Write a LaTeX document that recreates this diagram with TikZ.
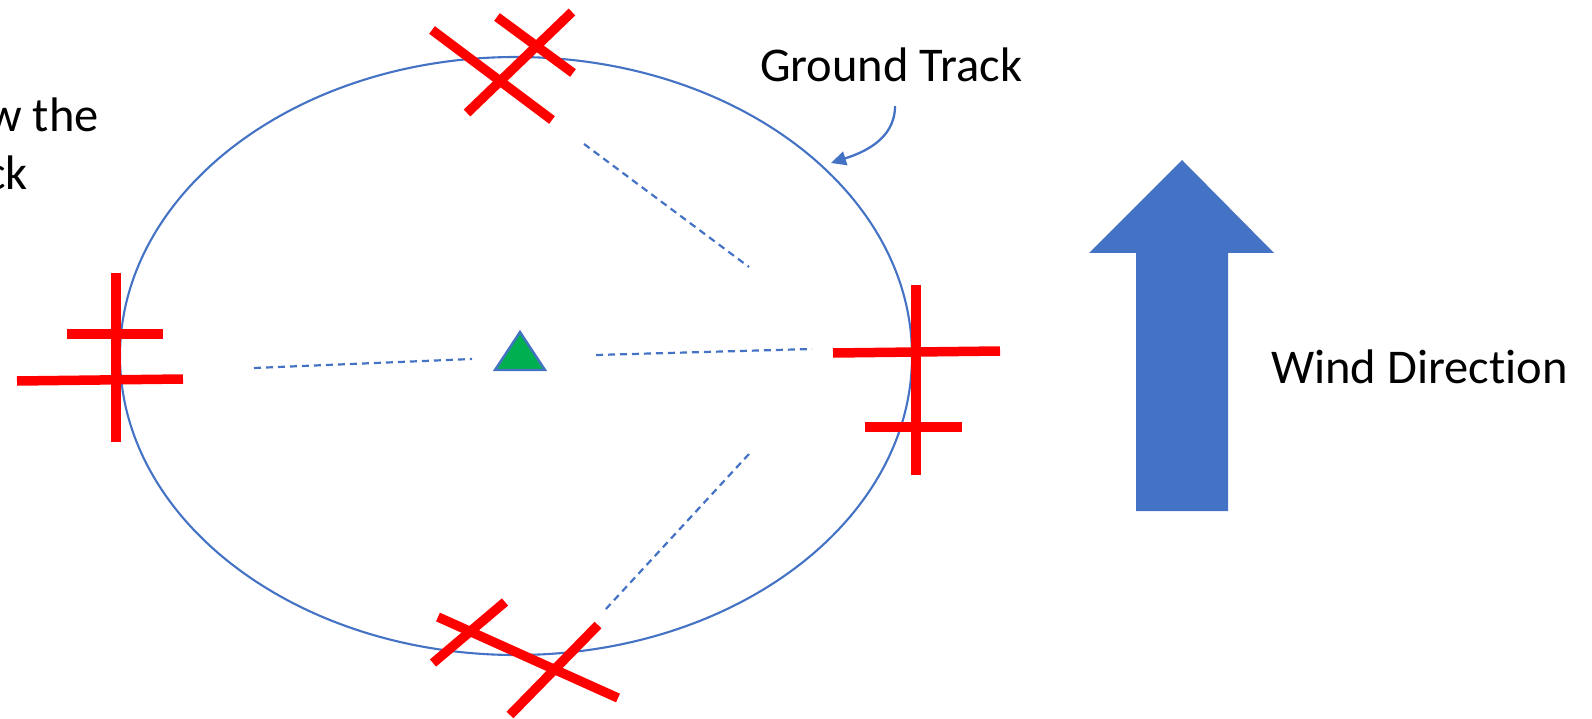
\documentclass[tikz,border=0pt]{standalone}
\usepackage{fontspec}
\setmainfont[Ligatures=NoCommon]{Carlito}
\usetikzlibrary{arrows.meta,shapes.geometric}
\definecolor{tblue}{HTML}{4472C4}
\definecolor{tred}{HTML}{FF0000}
\definecolor{tgreen}{HTML}{00B050}
\begin{document}
\begin{tikzpicture}[x=1pt,y=-1pt,
  lbl/.style={inner sep=0pt,font=\fontsize{48.5}{58}\selectfont},
  track/.style={draw=tblue,line width=2.1pt,ellipse,inner sep=0pt},
  bar/.style={draw=tred,line width=9.5pt},
  guide/.style={draw=tblue,line width=2.2pt,dash pattern=on 7pt off 5pt},
  callout/.style={draw=tblue,line width=2.3pt,-{Triangle[length=15pt,width=14pt]}},
  windarrow/.style={fill=tblue,draw=none}]
\useasboundingbox (0,0) rectangle (1592,719);
% ground track ellipse
\node[track,minimum width=792pt,minimum height=598pt] (trk) at (516,356) {};
% labels
\node[lbl,anchor=base west] (gt) at (760,82) {Ground Track};
\node[lbl,anchor=base west] (wd) at (1271,383) {Wind Direction};
\node[lbl,anchor=base east] (t1) at (99,132) {w the};
\node[lbl,anchor=base east] (t2) at (28,190) {ck};
% callout arrow
\coordinate (cs) at (895,106);
\coordinate (ce) at (831,163);
\draw[callout] (cs) to[out=-90,in=18] (ce);
% centre triangle
\coordinate (a1) at (520,332);
\coordinate (a2) at (495,370);
\coordinate (a3) at (545,370);
\draw[draw=tblue,fill=tgreen,line width=2.4pt,line join=miter] (a1) -- (a2) -- (a3) -- cycle;
% dashed guide lines
\coordinate (l1) at (254,368); \coordinate (l2) at (472,359);
\coordinate (r1) at (596,355); \coordinate (r2) at (812,349);
\coordinate (u1) at (584,144); \coordinate (u2) at (749,267);
\coordinate (d1) at (749,454); \coordinate (d2) at (605,610);
\draw[guide] (l1) -- (l2);
\draw[guide] (r1) -- (r2);
\draw[guide] (u1) -- (u2);
\draw[guide] (d1) -- (d2);
% red crosses: top
\draw[bar] (432,30) -- (552,120);
\draw[bar] (467,113) -- (572,12);
\draw[bar] (497,17) -- (573,73);
% bottom
\draw[bar] (433,663) -- (505,602);
\draw[bar] (438,617) -- (618,698);
\draw[bar] (510,715) -- (598,625);
% left
\draw[bar] (116,273) -- (116,442);
\draw[bar] (67,334) -- (163,334);
\draw[bar] (17,381) -- (183,379);
% right
\draw[bar] (916,285) -- (916,475);
\draw[bar] (833,353) -- (1000,351);
\draw[bar] (865,427) -- (962,427);
% wind arrow
\coordinate (w1) at (1182,160);
\coordinate (w2) at (1274,253);
\coordinate (w3) at (1228,253);
\coordinate (w4) at (1228,511);
\coordinate (w5) at (1136,511);
\coordinate (w6) at (1136,253);
\coordinate (w7) at (1089,253);
\fill[windarrow] (w1) -- (w2) -- (w3) -- (w4) -- (w5) -- (w6) -- (w7) -- cycle;
\end{tikzpicture}
\end{document}
